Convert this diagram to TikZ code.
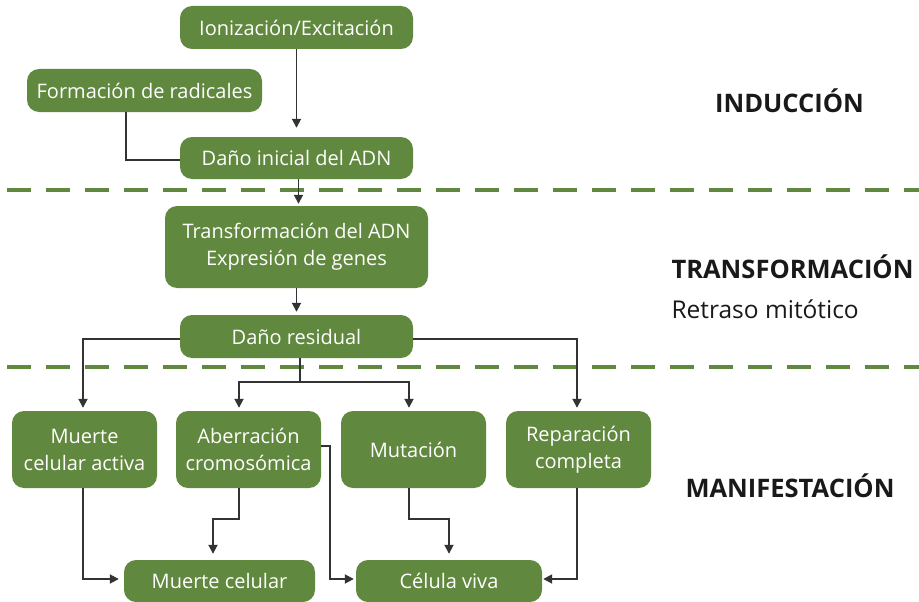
\documentclass[tikz,border=0pt]{standalone}
\usepackage{fontspec}
\setmainfont{Open Sans}
\usepackage{tikz}
\usetikzlibrary{arrows.meta,positioning,shapes}

\definecolor{hojaverde}{RGB}{97,136,63}
\definecolor{flechagris}{RGB}{51,51,51}

\begin{document}
\begin{tikzpicture}[x=1pt,y=-1pt,
    caja/.style={rounded corners=12pt,fill=hojaverde,text=white,inner sep=0pt,
      align=center,font=\fontsize{20}{27}\selectfont},
    flecha/.style={draw=flechagris,line width=1.8pt,-{Triangle[length=9pt,width=9pt]}},
    linea/.style={draw=flechagris,line width=1.8pt},
    separador/.style={draw=hojaverde,line width=4pt,dash pattern=on 24pt off 15pt},
    etapa/.style={font=\fontsize{25.5}{30}\selectfont\bfseries,text=black!90},
    nota/.style={font=\fontsize{24.5}{28}\selectfont,text=black!90}]
    \useasboundingbox (0,0) rectangle (919,602);

    % induccion
    \node[caja,minimum width=233pt,minimum height=43pt] (ion) at (296.5,27.5) {Ionización/Excitación};
    \node[caja,minimum width=235pt,minimum height=43pt] (rad) at (144.5,90.5) {Formación de radicales};
    \node[caja,minimum width=233pt,minimum height=42pt] (dini) at (296.5,158) {Daño inicial del ADN};

    % transformacion
    \node[caja,minimum width=263pt,minimum height=82pt] (trans) at (296.5,247) {Transformación del ADN\\Expresión de genes};
    \node[caja,minimum width=233pt,minimum height=43pt] (dres) at (296.5,336.5) {Daño residual};

    % manifestacion
    \node[caja,minimum width=145pt,minimum height=77pt] (mact) at (84.5,449.5) {Muerte\\celular activa};
    \node[caja,minimum width=145pt,minimum height=77pt] (aber) at (248.5,449.5) {Aberración\\cromosómica};
    \node[caja,minimum width=145pt,minimum height=77pt] (mut) at (413.5,449.5) {Mutación};
    \node[caja,minimum width=145pt,minimum height=77pt] (rep) at (578.5,449.5) {Reparación\\completa};
    \node[caja,minimum width=191pt,minimum height=42pt] (mcel) at (219.5,581) {Muerte celular};
    \node[caja,minimum width=186pt,minimum height=42pt] (cviva) at (449,581) {Célula viva};

    % etapas
    \node[etapa,anchor=base] (lind) at (789.5,112.5) {INDUCCIÓN};
    \node[etapa,anchor=base west] (ltrans) at (668,278) {TRANSFORMACIÓN};
    \node[nota,anchor=base west] (lretr) at (668,318) {Retraso mitótico};
    \node[etapa,anchor=base] (lman) at (790,497) {MANIFESTACIÓN};

    \draw[separador] (7,190) -- (919,190);
    \draw[separador] (7,367) -- (919,367);

    \draw[flecha,shorten >=9pt] (ion.south) -- (dini.north);
    \draw[linea] ([xshift=-18.5pt]rad.south) |- ([yshift=-2pt]dini.west);
    \draw[flecha,shorten >=2pt] ([xshift=2pt]dini.south) -- ([xshift=2pt]trans.north);
    \draw[flecha,shorten >=3pt] (trans.south) -- (dres.north);

    \coordinate (cruce) at (300,382);
    \draw[flecha,shorten >=3pt] ([yshift=-2.5pt]dres.west) -| ([xshift=-1.5pt]mact.north);
    \draw[flecha,shorten >=3pt] ([yshift=-2.5pt]dres.east) -| ([xshift=-1.5pt]rep.north);
    \draw[linea] ([xshift=3.5pt]dres.south) -- (cruce);
    \draw[flecha,shorten >=3pt] (cruce) -| ([xshift=-9.5pt]aber.north);
    \draw[flecha,shorten >=3pt] (cruce) -| ([xshift=-4.5pt]mut.north);

    \draw[flecha,shorten >=5pt] ([xshift=-1.5pt]mact.south) |- ([yshift=2pt]mcel.west);
    \draw[flecha,shorten >=6pt] ([xshift=-9.5pt]aber.south) -- ++(0,31) -| ([xshift=-6.5pt]mcel.north);
    \draw[flecha,shorten >=2pt] ([yshift=3.5pt]aber.east) -- ++(9,0) |- ([yshift=2pt]cviva.west);
    \draw[flecha,shorten >=6pt] ([xshift=-4.5pt]mut.south) -- ++(0,31) -| (cviva.north);
    \draw[flecha,shorten >=1pt] ([xshift=-1.5pt]rep.south) |- ([yshift=2pt]cviva.east);
\end{tikzpicture}
\end{document}
